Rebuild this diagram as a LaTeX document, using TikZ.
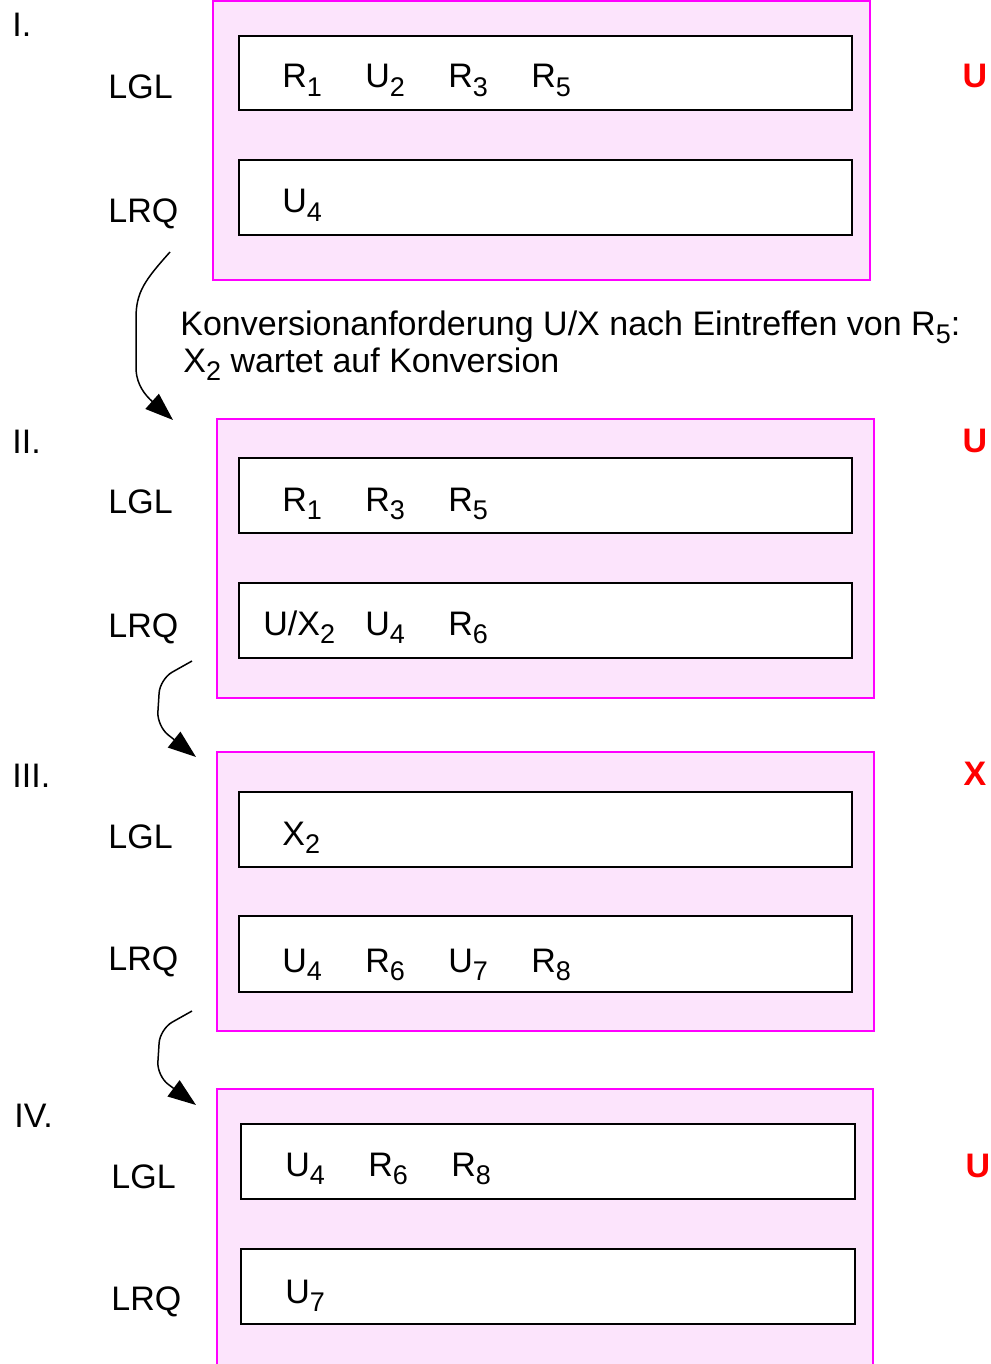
\documentclass[tikz,border=0pt]{standalone}
\usepackage{fontspec}
\setmainfont{Liberation Sans}
\usetikzlibrary{arrows.meta}

\definecolor{pinkbg}{RGB}{252,228,252}
\definecolor{lilac}{RGB}{255,0,255}
\newcommand{\ix}[1]{\raisebox{-0.5ex}{\fontsize{13.5}{13.5}\selectfont #1}}

\tikzset{
	panel/.style = {draw=lilac, fill=pinkbg, line width=1pt},
	queue/.style = {draw=black, fill=white, line width=1pt},
	txt/.style = {anchor=base west, inner sep=0pt, font=\fontsize{17}{20}\selectfont},
	mode/.style = {anchor=base, inner sep=0pt, text=red, font=\fontsize{17}{20}\selectfont\bfseries},
	flow/.style = {-{Triangle[length=14pt,width=10pt]}, line width=0.75pt, rounded corners=7pt}
}

\begin{document}
\begin{tikzpicture}[x=0.5pt, y=-0.5pt]

	\useasboundingbox (0,0) rectangle (990,1364);

	% I.
	\draw[panel] (213,1) rectangle (870,280);
	\draw[queue] (239,36) rectangle (852,110);
	\draw[queue] (239,160) rectangle (852,235);
	\node[txt] (n1) at (12,37) {I.};
	\node[txt] (lgl1) at (108,99) {LGL};
	\node[txt] (lrq1) at (108,222) {LRQ};
	\node[txt] (g11) at (282,88) {R\ix{1}};
	\node[txt] (g12) at (365,88) {U\ix{2}};
	\node[txt] (g13) at (448,88) {R\ix{3}};
	\node[txt] (g14) at (531,88) {R\ix{5}};
	\node[txt] (q11) at (282,213) {U\ix{4}};
	\node[mode] (m1) at (975,88) {U};

	\coordinate (s1) at (170,252);
	\coordinate (e1) at (173,420);
	\draw[flow, sharp corners] (s1) .. controls (145,280) and (136,292) .. (136,318)
		-- (136,370) .. controls (137,385) and (145,395) .. (e1);
	\node[txt] (t1) at (180,335) {Konversionanforderung U/X nach Eintreffen von R\ix{5}:};
	\node[txt] (t2) at (183,372) {X\ix{2} wartet auf Konversion};

	% II.
	\draw[panel] (217,419) rectangle (874,698);
	\draw[queue] (239,458) rectangle (852,533);
	\draw[queue] (239,583) rectangle (852,658);
	\node[txt] (n2) at (12,453) {II.};
	\node[txt] (lgl2) at (108,513) {LGL};
	\node[txt] (lrq2) at (108,637) {LRQ};
	\node[txt] (g21) at (282,511) {R\ix{1}};
	\node[txt] (g22) at (365,511) {R\ix{3}};
	\node[txt] (g23) at (448,511) {R\ix{5}};
	\node[txt] (q21) at (263,635) {U/X\ix{2}};
	\node[txt] (q22) at (365,635) {U\ix{4}};
	\node[txt] (q23) at (448,635) {R\ix{6}};
	\node[mode] (m2) at (975,452) {U};

	\coordinate (s2) at (192,661);
	\coordinate (e2) at (196,757);
	\draw[flow] (s2) -- (160,679) -- (157,726) -- (e2);

	% III.
	\draw[panel] (217,752) rectangle (874,1031);
	\draw[queue] (239,792) rectangle (852,867);
	\draw[queue] (239,916) rectangle (852,992);
	\node[txt] (n3) at (12,787) {III.};
	\node[txt] (lgl3) at (108,848) {LGL};
	\node[txt] (lrq3) at (108,970) {LRQ};
	\node[txt] (g31) at (282,845) {X\ix{2}};
	\node[txt] (q31) at (282,972) {U\ix{4}};
	\node[txt] (q32) at (365,972) {R\ix{6}};
	\node[txt] (q33) at (448,972) {U\ix{7}};
	\node[txt] (q34) at (531,972) {R\ix{8}};
	\node[mode] (m3) at (975,785) {X};

	\coordinate (s3) at (192,1011);
	\coordinate (e3) at (196,1105);
	\draw[flow] (s3) -- (160,1029) -- (157,1076) -- (e3);

	% IV.
	\draw[panel] (217,1089) rectangle (873,1380);
	\draw[queue] (241,1124) rectangle (855,1199);
	\draw[queue] (241,1249) rectangle (855,1324);
	\node[txt] (n4) at (14,1127) {IV.};
	\node[txt] (lgl4) at (111,1188) {LGL};
	\node[txt] (lrq4) at (111,1310) {LRQ};
	\node[txt] (g41) at (285,1176) {U\ix{4}};
	\node[txt] (g42) at (368,1176) {R\ix{6}};
	\node[txt] (g43) at (451,1176) {R\ix{8}};
	\node[txt] (q41) at (285,1303) {U\ix{7}};
	\node[mode] (m4) at (978,1177) {U};

\end{tikzpicture}
\end{document}
